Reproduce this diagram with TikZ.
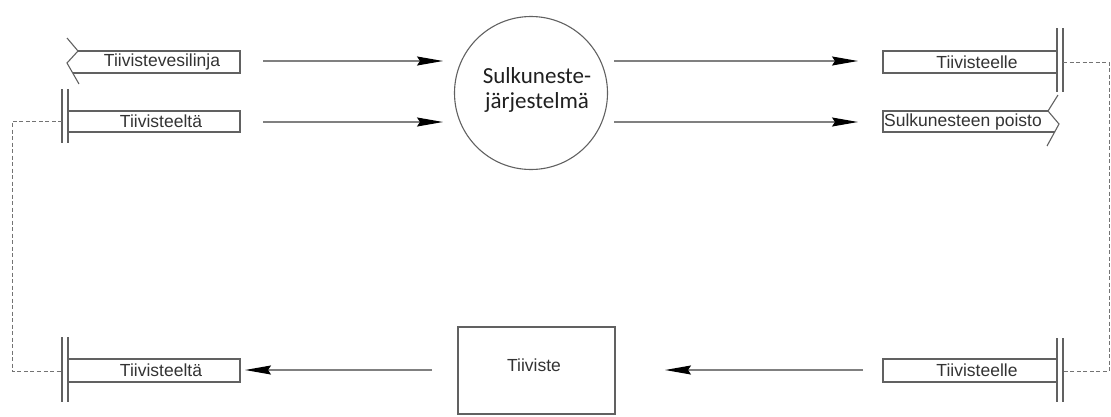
\documentclass[tikz,border=0pt]{standalone}
\usepackage{fontspec}
\setmainfont{Liberation Sans}
\newfontfamily\calib{Carlito}
\usetikzlibrary{arrows.meta}
\begin{document}
\begin{tikzpicture}[x=1pt,y=-1pt,
  boxline/.style={draw=black!62, line width=1.1pt},
  storebox/.style={boxline, rectangle, inner sep=0pt},
  bar/.style={draw=black!62, line width=1.1pt},
  lbl/.style={inner sep=0pt, text=black!80, font=\fontsize{17.5}{19}\selectfont},
  flow/.style={draw=black!50, line width=1.3pt, -{Stealth[length=26pt,width=9pt,inset=3pt,color=black]}},
  link/.style={draw=black!55, line width=0.9pt, dash pattern=on 4pt off 2.5pt}]
\useasboundingbox (0,0) rectangle (1111,416);

% process circle
\node[draw=black!62, line width=1.1pt, circle, minimum size=153pt, inner sep=0pt] (proc) at (531,93) {};
\node[inner sep=0pt, align=center, text=black!88, font=\calib\fontsize{23}{25}\selectfont] (proct) at (537,90) {Sulkuneste-\\järjestelmä};

% Tiiviste box
\node[storebox, minimum width=157pt, minimum height=87pt] (tiiv) at (536.5,370.5) {};
\node[lbl] (tiivt) at (534,365) {Tiiviste};

% top-left: Tiivistevesilinja (flow from outside)
\draw[boxline] (67,38) -- (78,51) -- (67,63) -- (79,84);
\draw[boxline] (78,51) -- (240,51) -- (240,73) -- (72.7,73);
\node[lbl] (src1) at (162,62) {Tiivistevesilinja};

% left: Tiivisteeltä (top)
\node[storebox, minimum width=172pt, minimum height=21pt] (st1) at (154,121.5) {};
\node[lbl] (st1t) at (161,121.5) {Tiivisteeltä};
\draw[bar] (62,89) -- (62,143);
\draw[bar] (68,89) -- (68,143);

% left: Tiivisteeltä (bottom)
\node[storebox, minimum width=172pt, minimum height=23pt] (st2) at (154,370.5) {};
\node[lbl] (st2t) at (161,370.5) {Tiivisteeltä};
\draw[bar] (62,337) -- (62,402);
\draw[bar] (68,337) -- (68,402);

% right: Tiivisteelle (top)
\node[storebox, minimum width=174pt, minimum height=22pt] (st3) at (970,62) {};
\node[lbl] (st3t) at (977,62) {Tiivisteelle};
\draw[bar] (1057,28) -- (1057,92);
\draw[bar] (1063,28) -- (1063,92);

% right: Sulkunesteen poisto (flow to outside)
\draw[boxline] (1058,95) -- (1048,111) -- (1059,124) -- (1047,146);
\draw[boxline] (1048,111) -- (883,111) -- (883,132) -- (1054.6,132);
\node[lbl] (snk) at (963,121.5) {Sulkunesteen poisto};

% right: Tiivisteelle (bottom)
\node[storebox, minimum width=174pt, minimum height=23pt] (st4) at (970,370.5) {};
\node[lbl] (st4t) at (977,370.5) {Tiivisteelle};
\draw[bar] (1057,338) -- (1057,402);
\draw[bar] (1063,338) -- (1063,402);

% arrow end points
\coordinate (a1s) at (263,61);  \coordinate (a1e) at (443,61);
\coordinate (a2s) at (263,122); \coordinate (a2e) at (443,122);
\coordinate (a3s) at (614,61);  \coordinate (a3e) at (858,61);
\coordinate (a4s) at (614,122); \coordinate (a4e) at (858,122);
\coordinate (a5s) at (863,370); \coordinate (a5e) at (665,370);
\coordinate (a6s) at (432,370); \coordinate (a6e) at (245,370);

\draw[flow] (a1s) -- (a1e);
\draw[flow] (a2s) -- (a2e);
\draw[flow] (a3s) -- (a3e);
\draw[flow] (a4s) -- (a4e);
\draw[flow] (a5s) -- (a5e);
\draw[flow] (a6s) -- (a6e);

% dashed links between stores
\coordinate (l1) at (62,121);  \coordinate (l2) at (62,371);
\coordinate (r1) at (1063,62); \coordinate (r2) at (1063,371);
\draw[link] (l1) -- (12,121) -- (12,371) -- (l2);
\draw[link] (r1) -- (1109,62) -- (1109,371) -- (r2);
\end{tikzpicture}
\end{document}
